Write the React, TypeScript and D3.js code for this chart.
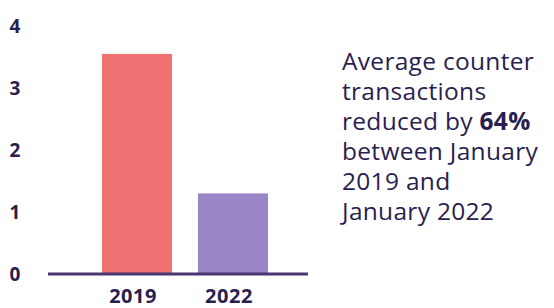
import React from "react";
import * as d3 from "d3";

const categories = ["2019", "2022"];
const values = [3.55, 1.3];
const yTicks = [0, 1, 2, 3, 4];
const barColors = ["#ef7171", "#9a86c6"];
const noteLines = [
  ["Average counter"],
  ["transactions"],
  ["reduced by ", "64%"],
  ["between January"],
  ["2019 and"],
  ["January 2022"],
];

export default function App() {
  const W = 554, H = 308;
  const y = d3.scaleLinear().domain([0, 4]).range([274, 26]);
  const x = d3.scaleBand().domain(categories).range([78, 292]).paddingInner(0.27).paddingOuter(0.25);
  const ink = "#2a1e50";
  return (
    <svg width={W} height={H} style={{ position: "absolute", left: 0, top: 0, background: "#fff" }}
      fontFamily="'Open Sans', sans-serif">
      {yTicks.map((t) => (
        <text key={t} x={15} y={y(t)} dy="0.36em" textAnchor="middle" fontSize={19} fontWeight={700} fill={ink}>
          {t}
        </text>
      ))}
      {categories.map((c, i) => (
        <rect key={c} x={x(c)} y={y(values[i])} width={x.bandwidth()} height={y(0) - y(values[i])} fill={barColors[i]} />
      ))}
      <line x1={48} x2={308} y1={y(0)} y2={y(0)} stroke="#463671" strokeWidth={3} />
      {categories.map((c) => (
        <text key={c} x={(x(c) as number) + x.bandwidth() / 2 - 4} y={303} textAnchor="middle" fontSize={20} fontWeight={700} fill={ink} letterSpacing={0.5}>
          {c}
        </text>
      ))}
      <g fontFamily="'Open Sans', sans-serif" fontSize={24.5} fill={ink} letterSpacing={0.3}>
        {noteLines.map((ln, i) => (
          <text key={i} x={342} y={70 + i * 30}>
            {ln[0]}
            {ln[1] ? <tspan fontWeight={700}>{ln[1]}</tspan> : null}
          </text>
        ))}
      </g>
    </svg>
  );
}
